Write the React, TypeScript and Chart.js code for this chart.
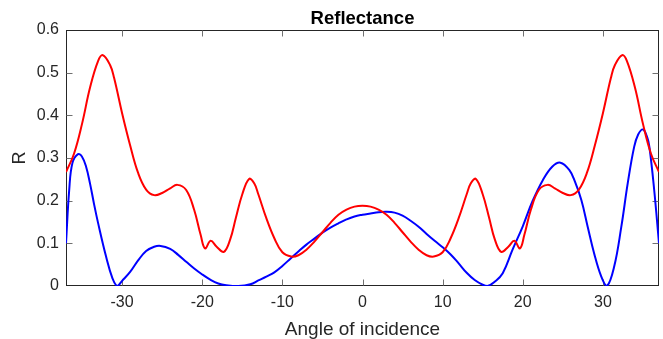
import React, { useEffect, useRef } from "react";
import { Chart, registerables } from "chart.js";

Chart.register(...registerables);

const TITLE = "Reflectance";
const X_LABEL = "Angle of incidence";
const Y_LABEL = "R";
const X_MIN = -37;
const X_MAX = 37;
const Y_MIN = 0;
const Y_MAX = 0.6;
const X_TICKS = [-30, -20, -10, 0, 10, 20, 30];
const Y_TICKS = [0, 0.1, 0.2, 0.3, 0.4, 0.5, 0.6];

const RED_X = [
  -37, -36, -35, -34, -33, -32.4, -31.5, -31, -30, -29, -28, -27, -26, -25, -24, -23.1, -22, -21, -20.2, -19.65,
  -18.95, -18.2, -17.3, -16.5, -15.8, -15, -14.15, -13.5, -13, -12, -11, -10, -8.9, -8, -7, -6, -5, -4, -3, -2, -1, 0,
  1, 2, 3, 4, 5, 6, 7, 8, 8.9, 10, 11, 12, 13, 13.5, 14.15, 15, 15.8, 16.5, 17.3, 18.2, 18.95, 19.65, 20.2, 21, 22,
  23.1, 24, 25, 26, 27, 28, 29, 30, 31, 31.5, 32.4, 33, 34, 35, 36, 37,
];
const RED_R = [
  0.267, 0.31, 0.38, 0.465, 0.527, 0.541, 0.518, 0.488, 0.405, 0.33, 0.265, 0.226, 0.213, 0.218, 0.229, 0.237, 0.225,
  0.178, 0.12, 0.088, 0.106, 0.092, 0.08, 0.11, 0.16, 0.215, 0.251, 0.24, 0.215, 0.159, 0.112, 0.079, 0.069, 0.072,
  0.085, 0.104, 0.126, 0.148, 0.167, 0.179, 0.186, 0.188,
  0.186, 0.179, 0.167, 0.148, 0.126, 0.104, 0.085, 0.072, 0.069, 0.079, 0.112, 0.159, 0.215, 0.24, 0.251, 0.215, 0.16,
  0.11, 0.08, 0.092, 0.106, 0.088, 0.12, 0.178, 0.225, 0.237, 0.229, 0.218, 0.213, 0.226, 0.265, 0.33, 0.405, 0.488,
  0.518, 0.541, 0.527, 0.465, 0.38, 0.31, 0.267,
];

const BLUE_X = [
  -37, -36.6, -36.2, -35.5, -35, -34.5, -34, -33.5, -33, -32, -31.2, -30.6, -30, -29, -28, -27, -26, -25.2, -24, -23,
  -22, -21, -20, -19, -18, -17, -15.5, -14, -13, -12, -11, -10, -9, -8, -7, -6, -5, -4, -3, -2, -1, 0, 1, 2, 3, 4, 5,
  6, 7, 8, 9, 10, 11, 12, 13, 14, 15, 15.6, 16.5, 17.5, 18.7, 20, 21.2, 22.5, 23.7, 24.7, 25.8, 26.5, 27.3, 28.1, 28.9,
  29.8, 30.5, 31.4, 32.3, 33.1, 33.9, 34.4, 35, 35.5, 35.8, 36.4, 37,
];
const BLUE_R = [
  0.1, 0.225, 0.288, 0.309, 0.303, 0.28, 0.24, 0.192, 0.148, 0.069, 0.018, 0.0, 0.012, 0.033, 0.06, 0.082, 0.092,
  0.094, 0.087, 0.073, 0.057, 0.041, 0.027, 0.015, 0.006, 0.002, 0.0, 0.004, 0.013, 0.022, 0.032, 0.047, 0.064, 0.081,
  0.097, 0.111, 0.125, 0.137, 0.147, 0.156, 0.163, 0.167, 0.17, 0.173, 0.174, 0.172, 0.165, 0.153, 0.139, 0.122,
  0.106, 0.091, 0.074, 0.053, 0.031, 0.014, 0.003, 0.0, 0.01, 0.03, 0.084, 0.14, 0.198, 0.248, 0.28, 0.289, 0.272,
  0.245, 0.202, 0.139, 0.077, 0.022, 0.0, 0.045, 0.139, 0.241, 0.326, 0.355, 0.367, 0.35, 0.326, 0.225, 0.1,
];

const FONT = "'Liberation Sans', Arial, Helvetica, sans-serif";
const AXIS_COLOR = "#262626";

const boxPlugin = {
  id: "matlabBox",
  beforeDatasetsDraw(chart: any) {
    const { ctx, chartArea } = chart;
    const xs = chart.scales.x;
    const ys = chart.scales.y;
    const L = Math.round(chartArea.left) + 0.5;
    const R = Math.round(chartArea.right) - 0.5;
    const T = Math.round(chartArea.top) + 0.5;
    const B = Math.round(chartArea.bottom) - 0.5;
    ctx.save();
    ctx.lineWidth = 1;
    ctx.strokeStyle = AXIS_COLOR;
    ctx.strokeRect(L, T, R - L, B - T);
    ctx.strokeStyle = "#707070";
    ctx.beginPath();
    const tl = 6;
    for (const v of X_TICKS) {
      const p = Math.round(xs.getPixelForValue(v)) + 0.5;
      ctx.moveTo(p, B);
      ctx.lineTo(p, B - tl);
      ctx.moveTo(p, T);
      ctx.lineTo(p, T + tl);
    }
    for (const v of Y_TICKS) {
      const p = Math.round(ys.getPixelForValue(v)) + 0.5;
      if (v === Y_MIN || v === Y_MAX) continue;
      ctx.moveTo(L, p);
      ctx.lineTo(L + tl, p);
      ctx.moveTo(R, p);
      ctx.lineTo(R - tl, p);
    }
    ctx.stroke();
    ctx.restore();
  },
};

export default function App() {
  const ref = useRef<HTMLCanvasElement | null>(null);

  useEffect(() => {
    if (!ref.current) return;
    const chart = new Chart(ref.current, {
      type: "line",
      data: {
        datasets: [
          {
            label: "red",
            data: RED_X.map((x, i) => ({ x, y: RED_R[i] })),
            borderColor: "#FF0000",
            borderWidth: 2,
            pointRadius: 0,
            tension: 0.4,
            fill: false,
          },
          {
            label: "blue",
            data: BLUE_X.map((x, i) => ({ x, y: BLUE_R[i] })),
            borderColor: "#0000FF",
            borderWidth: 2,
            pointRadius: 0,
            tension: 0.4,
            fill: false,
          },
        ],
      },
      options: {
        animation: false,
        responsive: false,
        maintainAspectRatio: false,
        layout: { padding: { left: 0, right: 4, top: 0, bottom: 0 } },
        plugins: {
          legend: { display: false },
          title: { display: false },
          tooltip: { enabled: false },
        },
        scales: {
          x: {
            type: "linear",
            position: "bottom",
            min: X_MIN,
            max: X_MAX,
            grid: { display: false, drawTicks: false },
            border: { display: false },
            afterBuildTicks: (s: any) => {
              s.ticks = X_TICKS.map((v) => ({ value: v }));
            },
            afterFit: (s: any) => {
              s.height = 53;
            },
            ticks: {
              color: AXIS_COLOR,
              font: { family: FONT, size: 16 },
              padding: 7,
              maxRotation: 0,
              callback: (v: any) => String(v),
            },
            title: {
              display: true,
              text: X_LABEL,
              color: AXIS_COLOR,
              font: { family: FONT, size: 19, lineHeight: 1.0 },
              padding: { top: 0, bottom: 0 },
            },
          },
          x2: {
            type: "linear",
            position: "top",
            min: X_MIN,
            max: X_MAX,
            grid: { display: false, drawTicks: false },
            border: { display: false },
            ticks: { display: false },
            afterFit: (s: any) => {
              s.height = 30;
            },
            title: {
              display: true,
              text: TITLE,
              color: "#000000",
              font: { family: FONT, size: 18.5, weight: "bold" },
              padding: { top: 8, bottom: 0 },
            },
          },
          y: {
            type: "linear",
            min: Y_MIN,
            max: Y_MAX,
            grid: { display: false, drawTicks: false },
            border: { display: false },
            afterBuildTicks: (s: any) => {
              s.ticks = Y_TICKS.map((v) => ({ value: v }));
            },
            afterFit: (s: any) => {
              s.width = 66;
            },
            ticks: {
              color: AXIS_COLOR,
              font: { family: FONT, size: 16 },
              padding: 7,
              callback: (v: any) => String(v),
            },
            title: {
              display: true,
              text: Y_LABEL,
              color: AXIS_COLOR,
              font: { family: FONT, size: 18 },
              padding: { top: 9, bottom: 0 },
            },
          },
        },
      },
      plugins: [boxPlugin],
    } as any);
    return () => chart.destroy();
  }, []);

  return (
    <div style={{ position: "fixed", left: 0, top: 0, width: 663, height: 339, background: "#ffffff" }}>
      <canvas ref={ref} width={663} height={339} style={{ display: "block" }} />
    </div>
  );
}
